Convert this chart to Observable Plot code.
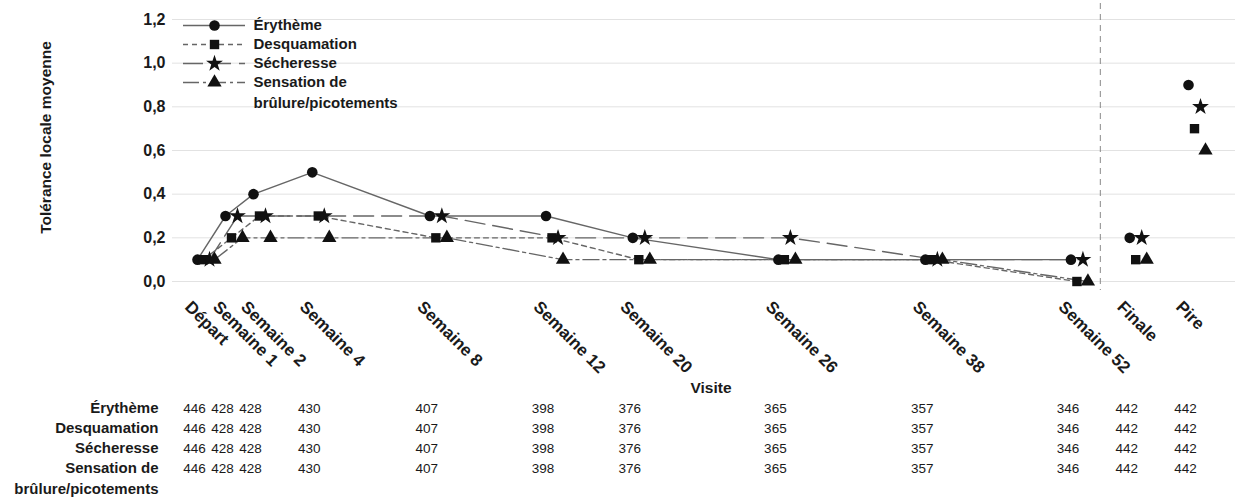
<!DOCTYPE html>
<html>
<head>
<meta charset="utf-8">
<script src="https://cdn.jsdelivr.net/npm/d3@7"></script>
<script src="https://cdn.jsdelivr.net/npm/@observablehq/plot@0.6"></script>
<style>
  html, body { margin: 0; padding: 0; background: #fff; }
  #wrap { position: relative; width: 1241px; height: 502px; font-family: "Liberation Sans", Arial, sans-serif; }
  #wrap svg { display: block; }
  #legend { position: absolute; left: 0; top: 0; }
  #legend svg { background: transparent !important; }
</style>
</head>
<body>
<div id="wrap"><div id="main"></div><div id="table"></div><div id="legend"></div></div>
<script>
// ---------- data ----------
const visits = ["Départ","Semaine 1","Semaine 2","Semaine 4","Semaine 8","Semaine 12","Semaine 20","Semaine 26","Semaine 38","Semaine 52","Finale","Pire"];
// horizontal slot of each visit on the chart's category axis (uneven spacing as in the source)
const visitSlot = [0, 1, 2, 4.1, 8.3, 12.45, 15.55, 20.75, 26.0, 31.2, 33.3, 35.4];
const connectedVisits = 10; // Départ .. Semaine 52 are joined by lines; Finale and Pire are single points

const seriesNames = ["Érythème","Desquamation","Sécheresse","Sensation de brûlure/picotements"];
const seriesLabels = ["Érythème","Desquamation","Sécheresse","Sensation de\nbrûlure/picotements"];

const erytheme     = [0.1,0.3,0.4,0.5,0.3,0.3,0.2,0.1,0.1,0.1,0.2,0.9];
const desquamation = [0.1,0.2,0.3,0.3,0.2,0.2,0.1,0.1,0.1,0.0,0.1,0.7];
const secheresse   = [0.1,0.3,0.3,0.3,0.3,0.2,0.2,0.2,0.1,0.1,0.2,0.8];
const sensation    = [0.1,0.2,0.2,0.2,0.2,0.1,0.1,0.1,0.1,0.0,0.1,0.6];

const nErytheme     = [446,428,428,430,407,398,376,365,357,346,442,442];
const nDesquamation = [446,428,428,430,407,398,376,365,357,346,442,442];
const nSecheresse   = [446,428,428,430,407,398,376,365,357,346,442,442];
const nSensation    = [446,428,428,430,407,398,376,365,357,346,442,442];

const yTicks = [0, 0.2, 0.4, 0.6, 0.8, 1.0, 1.2];

// ---------- styles ----------
const FONT = "'Liberation Sans', Arial, sans-serif";
const INK = "#1a1a1a";
const LINE = "#666";
const seriesStyle = [
  {symbol: "circle",   dash: null,        dx: 0},
  {symbol: "square",   dash: "5,4",       dx: 6},
  {symbol: "star",     dash: "20,8",      dx: 12},
  {symbol: "triangle", dash: "16,4,3,4",  dx: 17}
];
const seriesValues = [erytheme, desquamation, secheresse, sensation];
const seriesCounts = [nErytheme, nDesquamation, nSecheresse, nSensation];

const xScale = {domain: [0, 35.4], range: [197, 1188]};
const fmt = d => d.toFixed(1).replace(".", ",");

// ---------- main chart ----------
const marks = [];
marks.push(Plot.ruleY(yTicks, {stroke: "#e2e2e2", strokeWidth: 1}));
const sepPos = (visitSlot[connectedVisits - 1] + visitSlot[connectedVisits]) / 2;
marks.push(Plot.ruleX([sepPos], {stroke: "#888", strokeWidth: 1, strokeDasharray: "6,5", insetTop: -16, insetBottom: -9}));

seriesNames.forEach((name, s) => {
  const rows = visits.map((v, i) => ({visit: v, pos: visitSlot[i], value: seriesValues[s][i]}));
  const st = seriesStyle[s];
  marks.push(Plot.line(rows.slice(0, connectedVisits), {
    x: "pos", y: "value", stroke: LINE, strokeWidth: 1.4,
    strokeDasharray: st.dash || undefined, dx: st.dx
  }));
});
seriesNames.forEach((name, s) => {
  const rows = visits.map((v, i) => ({visit: v, pos: visitSlot[i], value: seriesValues[s][i]}));
  const st = seriesStyle[s];
  marks.push(Plot.dot(rows, {x: "pos", y: "value", symbol: st.symbol, r: 5.3, fill: "#111", stroke: "none", dx: st.dx}));
});

// rotated visit labels
marks.push(Plot.text(visits.map((v, i) => ({visit: v, pos: visitSlot[i]})), {
  x: "pos", text: "visit", frameAnchor: "bottom", rotate: 45, textAnchor: "start",
  lineAnchor: "top", dx: -5, dy: 18, fontSize: 17, fontWeight: "bold", fill: INK
}));
marks.push(Plot.text(["Visite"], {frameAnchor: "bottom", textAnchor: "middle", dy: 111, dx: 7, fontSize: 15.5, fontWeight: "bold", fill: INK}));
marks.push(Plot.text(["Tolérance locale moyenne"], {frameAnchor: "left", textAnchor: "middle", rotate: -90, dx: -126, dy: -13, fontSize: 15.5, fontWeight: "bold", fill: INK}));

const main = Plot.plot({
  width: 1241, height: 398,
  marginTop: 19, marginBottom: 117, marginLeft: 172, marginRight: 6,
  style: {fontFamily: FONT, fontSize: "16px", fontWeight: "bold", color: INK, background: "transparent"},
  x: {...xScale, axis: null},
  y: {domain: [0, 1.2], ticks: yTicks, tickFormat: fmt, tickSize: 0, tickPadding: 7, label: null},
  marks
});
document.getElementById("main").appendChild(main);

// ---------- count table ----------
const tMarks = [];
seriesNames.forEach((name, s) => {
  const rows = visits.map((v, i) => ({series: name, pos: visitSlot[i], n: seriesCounts[s][i]}));
  tMarks.push(Plot.text(rows, {x: "pos", y: "series", text: d => String(d.n), dx: -3, fontSize: 13.5, fontWeight: "normal", fill: INK}));
});
tMarks.push(Plot.text(seriesNames.map((n, s) => ({series: n, label: seriesLabels[s]})), {
  y: "series", text: "label", frameAnchor: "left", textAnchor: "end", lineAnchor: "top",
  dx: -14, dy: -10, lineHeight: 1.4, fontSize: 15, fontWeight: "bold", fill: INK
}));
const table = Plot.plot({
  width: 1241, height: 104,
  marginTop: 9, marginBottom: 33, marginLeft: 172, marginRight: 6,
  style: {fontFamily: FONT, color: INK, background: "transparent"},
  x: {...xScale, axis: null},
  y: {type: "point", domain: seriesNames, range: [9, 71], padding: 0, axis: null},
  marks: tMarks
});
document.getElementById("table").appendChild(table);

// ---------- legend ----------
const lMarks = [];
seriesNames.forEach((name, s) => {
  const st = seriesStyle[s];
  const row = [{series: name, a: 0, b: 1, m: 0.5, label: seriesLabels[s]}];
  lMarks.push(Plot.ruleY(row, {y: "series", x1: "a", x2: "b", stroke: LINE, strokeWidth: 1.4, strokeDasharray: st.dash || undefined}));
  lMarks.push(Plot.dot(row, {x: "m", y: "series", symbol: st.symbol, r: 5.3, fill: "#111", stroke: "none"}));
  lMarks.push(Plot.text(row, {x: "b", y: "series", text: "label", textAnchor: "start", lineAnchor: "top", dx: 8, dy: -10, lineHeight: 1.4, fontSize: 15, fontWeight: "bold", fill: INK}));
});
const legend = Plot.plot({
  width: 420, height: 115,
  style: {fontFamily: FONT, color: INK, background: "transparent"},
  x: {domain: [0, 1], range: [183, 245], axis: null},
  y: {type: "point", domain: seriesNames, range: [23.5, 83], padding: 0, axis: null},
  marks: lMarks
});
document.getElementById("legend").appendChild(legend);
</script>
</body>
</html>
